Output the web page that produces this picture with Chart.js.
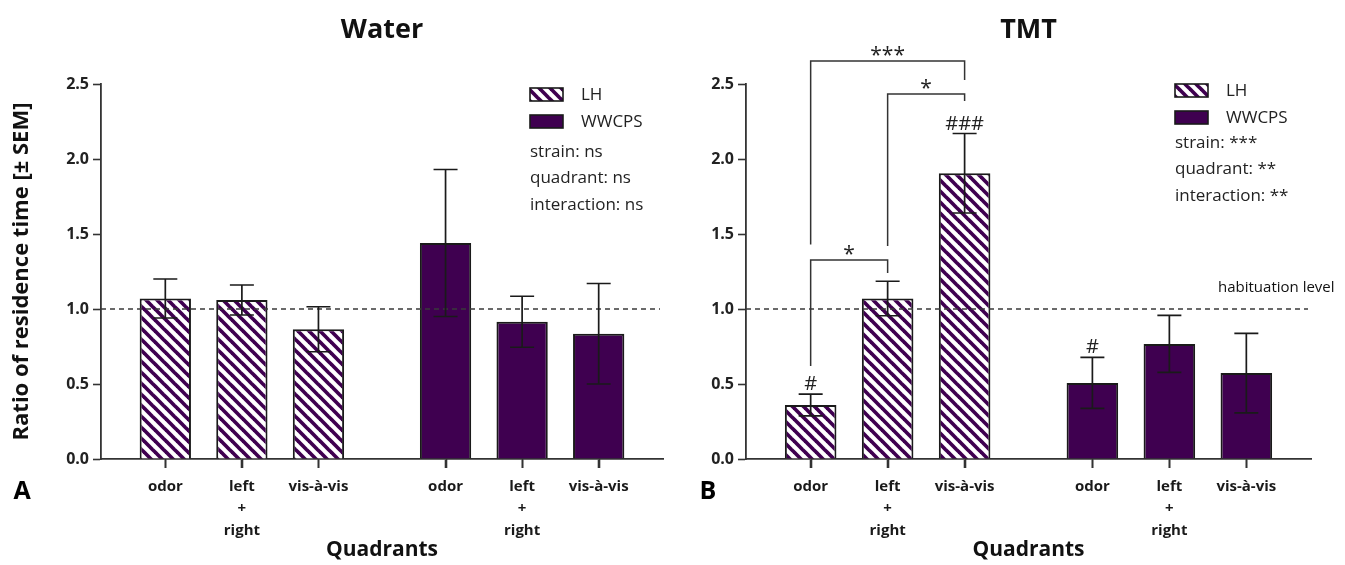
<!DOCTYPE html>
<html><head><meta charset="utf-8">
<script src="https://cdn.jsdelivr.net/npm/chart.js@4"></script>
<style>
html,body{margin:0;padding:0;background:#fff;}
#wrap{position:relative;width:1345px;height:565px;overflow:hidden;background:#fff;}
canvas{position:absolute;top:0;}
#cA{left:0;}
#cB{left:672px;}
</style></head><body>
<div id="wrap"><canvas id="cA" width="672" height="565"></canvas><canvas id="cB" width="673" height="565"></canvas></div>
<script>
// ---------- data ----------
const quadrants = ['odor', ['left', '+', 'right'], 'vis-à-vis'];
const strains = ['LH', 'WWCPS'];
const yTicks = [0, 0.5, 1.0, 1.5, 2.0, 2.5];
const habituationLevel = 1.0;

const waterLH    = [1.07, 1.06, 0.865];
const waterLHsem = [0.13, 0.10, 0.15];
const waterWW    = [1.44, 0.915, 0.835];
const waterWWsem = [0.49, 0.17, 0.335];

const tmtLH    = [0.36, 1.07, 1.905];
const tmtLHsem = [0.073, 0.115, 0.265];
const tmtWW    = [0.507, 0.767, 0.573];
const tmtWWsem = [0.17, 0.19, 0.265];

const waterStats = ['strain: ns', 'quadrant: ns', 'interaction: ns'];
const tmtStats   = ['strain: ***', 'quadrant: **', 'interaction: **'];

// '#' marks: strain index, quadrant index, text
const tmtHashStrain = [0, 0, 1];
const tmtHashIndex  = [0, 2, 0];
const tmtHashText   = ['#', '###', '#'];

// significance brackets between LH bars (quadrant indices), heights in data units
const bracketFrom     = [0, 1, 0];
const bracketTo       = [2, 2, 1];
const bracketTop      = [2.653, 2.433, 1.327];
const bracketLeftEnd  = [1.43, 1.42, 0.62];
const bracketRightEnd = [2.527, 2.387, 1.24];
const bracketLabel    = ['***', '*', '*'];

// ---------- styles / layout ----------
const PURPLE = '#3f0050';
const INK = '#1a1a1a';
const AXIS = '#333333';
const FONT = "'Open Sans', 'DejaVu Sans', sans-serif";
const GROUP_OFFSET = 3.66;

function hatchPattern(ctx) {
  const P = 11;
  const c = document.createElement('canvas');
  c.width = P; c.height = P;
  const g = c.getContext('2d');
  g.fillStyle = '#ffffff';
  g.fillRect(0, 0, P, P);
  g.strokeStyle = PURPLE;
  g.lineWidth = 3.7;
  for (const o of [-P, 0, P]) {
    g.beginPath();
    g.moveTo(o - 2, -2);
    g.lineTo(o + P + 2, P + 2);
    g.stroke();
  }
  return ctx.createPattern(c, 'repeat');
}

const annotPlugin = {
  id: 'annot',
  afterDatasetsDraw(chart, args, o) {
    const {ctx, chartArea: ca, scales: {x, y}} = chart;
    ctx.save();
    // category tick marks below the x axis
    ctx.strokeStyle = AXIS;
    ctx.lineWidth = 1.6;
    x.ticks.forEach((t, i) => {
      const px = Math.round(x.getPixelForTick(i)) + 0.5;
      ctx.beginPath();
      ctx.moveTo(px, ca.bottom);
      ctx.lineTo(px, ca.bottom + 9);
      ctx.stroke();
    });

    // habituation dashed line
    const yh = y.getPixelForValue(habituationLevel);
    ctx.setLineDash([5, 4]);
    ctx.lineWidth = 1.6;
    ctx.strokeStyle = '#3a3a3a';
    ctx.beginPath();
    ctx.moveTo(ca.left, yh);
    ctx.lineTo(ca.right - 3, yh);
    ctx.stroke();
    ctx.setLineDash([]);

    // error bars
    ctx.strokeStyle = INK;
    ctx.lineWidth = 1.7;
    chart.data.datasets.forEach((ds, di) => {
      const meta = chart.getDatasetMeta(di);
      meta.data.forEach((bar, i) => {
        const m = ds.data[i].y, s = ds.sem[i];
        const yt = y.getPixelForValue(m + s), yb = y.getPixelForValue(m - s);
        const cx = bar.x, hw = 12;
        ctx.beginPath();
        ctx.moveTo(cx, yt); ctx.lineTo(cx, yb);
        ctx.moveTo(cx - hw, yt); ctx.lineTo(cx + hw, yt);
        ctx.moveTo(cx - hw, yb); ctx.lineTo(cx + hw, yb);
        ctx.stroke();
      });
    });

    // legend
    const lx = ca.left + 429;
    const ly = ca.top + o.legendY;
    const bw = 33, bh = 13;
    chart.data.datasets.forEach((ds, di) => {
      const by = ly + di * 27;
      ctx.fillStyle = ds.backgroundColor;
      ctx.fillRect(lx, by, bw, bh);
      ctx.lineWidth = 1.6;
      ctx.strokeStyle = INK;
      ctx.strokeRect(lx, by, bw, bh);
      ctx.fillStyle = '#222';
      ctx.font = `17px ${FONT}`;
      ctx.textAlign = 'left';
      ctx.textBaseline = 'middle';
      ctx.fillText(ds.label, lx + 51, by + bh / 2 + 1);
    });
    o.stats.forEach((t, i) => {
      ctx.fillStyle = '#222';
      ctx.font = `17px ${FONT}`;
      ctx.textAlign = 'left';
      ctx.textBaseline = 'middle';
      ctx.fillText(t, lx, ca.top + o.statsY + i * 26.5);
    });

    // hash marks
    if (o.hash) {
      ctx.fillStyle = '#222';
      ctx.font = `20px ${FONT}`;
      ctx.textAlign = 'center';
      ctx.textBaseline = 'alphabetic';
      o.hash.text.forEach((t, k) => {
        const si = o.hash.strain[k], qi = o.hash.index[k];
        const ds = chart.data.datasets[si];
        const bar = chart.getDatasetMeta(si).data[qi];
        const cap = y.getPixelForValue(ds.data[qi].y + ds.sem[qi]);
        ctx.fillText(t, bar.x, cap - 4);
      });
    }

    // brackets
    if (o.brackets) {
      const lhMeta = chart.getDatasetMeta(0);
      ctx.strokeStyle = '#333';
      ctx.lineWidth = 1.5;
      o.brackets.label.forEach((lab, k) => {
        const x1 = lhMeta.data[o.brackets.from[k]].x;
        const x2 = lhMeta.data[o.brackets.to[k]].x;
        const yt = y.getPixelForValue(o.brackets.top[k]);
        const yl = y.getPixelForValue(o.brackets.leftEnd[k]);
        const yr = y.getPixelForValue(o.brackets.rightEnd[k]);
        ctx.beginPath();
        ctx.moveTo(x1, yl); ctx.lineTo(x1, yt); ctx.lineTo(x2, yt); ctx.lineTo(x2, yr);
        ctx.stroke();
        ctx.fillStyle = '#222';
        ctx.font = `21px ${FONT}`;
        ctx.textAlign = 'center';
        ctx.textBaseline = 'alphabetic';
        ctx.fillText(lab, (x1 + x2) / 2, yt + 1);
      });
    }

    // habituation label
    if (o.habLabel) {
      ctx.fillStyle = '#111';
      ctx.font = `15px ${FONT}`;
      ctx.textAlign = 'left';
      ctx.textBaseline = 'middle';
      ctx.fillText(o.habLabel, ca.right - 93, yh - 21);
    }

    // panel letter
    ctx.fillStyle = '#000';
    ctx.font = `bold 25px ${FONT}`;
    ctx.textAlign = 'center';
    ctx.textBaseline = 'middle';
    ctx.fillText(o.letter, o.letterX, ca.bottom + 33);
    ctx.restore();
  }
};

function makeChart(id, cfg) {
  const canvas = document.getElementById(id);
  const ctx = canvas.getContext('2d');
  const lhData = cfg.lh.map((v, i) => ({x: i, y: v}));
  const wwData = cfg.ww.map((v, i) => ({x: i + GROUP_OFFSET, y: v}));
  const tickPos = [0, 1, 2].concat([0, 1, 2].map(i => i + GROUP_OFFSET));
  const common = {grouped: false, barPercentage: 0.67, categoryPercentage: 1.0,
                  borderColor: INK, borderWidth: 2};
  return new Chart(ctx, {
    type: 'bar',
    data: {
      datasets: [
        Object.assign({label: strains[0], data: lhData, sem: cfg.lhSem, backgroundColor: hatchPattern(ctx)}, common),
        Object.assign({label: strains[1], data: wwData, sem: cfg.wwSem, backgroundColor: PURPLE}, common)
      ]
    },
    options: {
      responsive: false,
      animation: false,
      layout: {padding: {left: 0, right: cfg.padRight, top: 0, bottom: 0}},
      plugins: {
        legend: {display: false},
        tooltip: {enabled: false},
        title: {
          display: true, text: cfg.title, fullSize: false, color: '#111',
          font: {family: FONT, size: 27, weight: 'bold', lineHeight: 1.2},
          padding: {top: 14, bottom: 84 - 14 - 32.4}
        },
        annot: cfg.annot
      },
      scales: {
        x: {
          type: 'linear', min: -0.84, max: 6.5, offset: false,
          afterBuildTicks: s => { s.ticks = tickPos.map(v => ({value: v})); },
          afterFit: s => { s.height = 106; },
          ticks: {
            autoSkip: false, maxRotation: 0, minRotation: 0, padding: 8, color: '#1a1a1a',
            font: {family: FONT, size: 15, weight: 'bold', lineHeight: 1.45},
            callback: (v, i) => quadrants[i % 3]
          },
          grid: {display: true, offset: false, drawOnChartArea: false, drawTicks: true,
                 tickLength: 9, tickWidth: 1.6, tickColor: AXIS},
          border: {display: true, color: AXIS, width: 1.8},
          title: {display: true, text: 'Quadrants', color: '#111',
                  font: {family: FONT, size: 21, weight: 'bold', lineHeight: 1.2},
                  padding: {top: 0, bottom: 2}}
        },
        y: {
          min: 0, max: 2.5,
          afterBuildTicks: s => { s.ticks = yTicks.map(v => ({value: v})); },
          afterFit: s => { s.width = cfg.yWidth; },
          ticks: {padding: 4, color: '#222', font: {family: FONT, size: 16, weight: 'bold'},
                  callback: v => Number(v).toFixed(1)},
          grid: {display: true, offset: false, drawOnChartArea: false, drawTicks: true,
                 tickLength: 8, tickWidth: 1.6, tickColor: AXIS},
          border: {display: true, color: AXIS, width: 1.8},
          title: {display: cfg.yTitle !== '', text: cfg.yTitle, color: '#111',
                  font: {family: FONT, size: 22, weight: 'bold', lineHeight: 1.2},
                  padding: {top: 9, bottom: 0}}
        }
      }
    },
    plugins: [annotPlugin]
  });
}

makeChart('cA', {
  title: 'Water', lh: waterLH, lhSem: waterLHsem, ww: waterWW, wwSem: waterWWsem,
  yWidth: 101, padRight: 9, yTitle: 'Ratio of residence time [± SEM]',
  annot: {stats: waterStats, legendY: 4, statsY: 68, letter: 'A', letterX: 22}
});

makeChart('cB', {
  title: 'TMT', lh: tmtLH, lhSem: tmtLHsem, ww: tmtWW, wwSem: tmtWWsem,
  yWidth: 74, padRight: 34, yTitle: '',
  annot: {stats: tmtStats, legendY: 0, statsY: 59, letter: 'B', letterX: 36,
          habLabel: 'habituation level',
          hash: {strain: tmtHashStrain, index: tmtHashIndex, text: tmtHashText},
          brackets: {from: bracketFrom, to: bracketTo, top: bracketTop, leftEnd: bracketLeftEnd,
                     rightEnd: bracketRightEnd, label: bracketLabel}}
});
</script>
</body></html>
